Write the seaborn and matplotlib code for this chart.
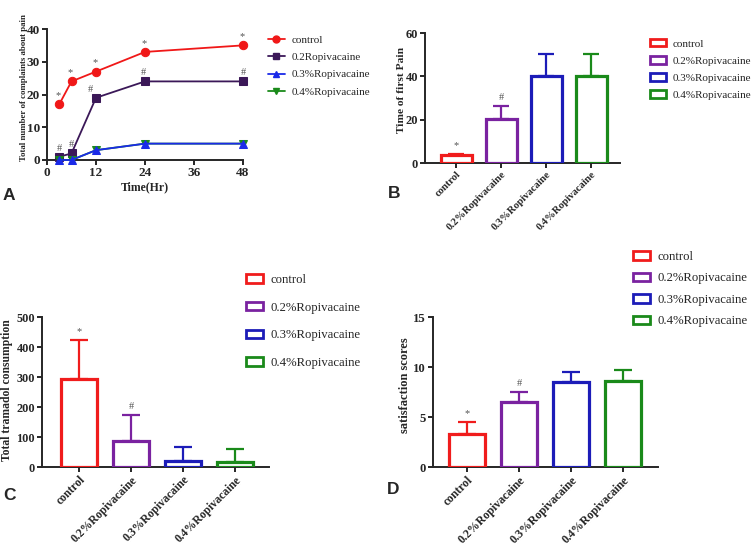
import matplotlib
matplotlib.use("Agg")
import matplotlib.pyplot as plt
import seaborn as sns
import numpy as np
import pandas as pd
from matplotlib.patches import Rectangle
from matplotlib.lines import Line2D

# ---------------- data ----------------
time_hr = [3, 6, 12, 24, 48]
pain_control = [17, 24, 27, 33, 35]
pain_r02 = [1, 2, 19, 24, 24]
pain_r03 = [0, 0, 3, 5, 5]
pain_r04 = [0, 0, 3, 5, 5]
line_labels = ["control", "0.2Ropivacaine", "0.3%Ropivacaine", "0.4%Ropivacaine"]

groups = ["control", "0.2%Ropivacaine", "0.3%Ropivacaine", "0.4%Ropivacaine"]
first_pain_mean = [3.5, 20.5, 40, 40]
first_pain_sd = [0.6, 6.0, 10.5, 10.5]
tramadol_mean = [295, 88, 20, 18]
tramadol_sd = [128, 85, 47, 42]
satisfaction_mean = [3.3, 6.5, 8.5, 8.6]
satisfaction_sd = [1.2, 1.0, 1.0, 1.1]

marks_B = ["*", "#", "", ""]
marks_C = ["*", "#", "", ""]
marks_D = ["*", "#", "", ""]

# ---------------- style ----------------
W, H = 753, 547
sns.set_style("ticks")
plt.rcParams["font.family"] = ["Liberation Serif", "DejaVu Serif"]
plt.rcParams["axes.linewidth"] = 1.4

line_colors = ["#f01818", "#3b1858", "#1a2ae8", "#1a8a1a"]
markers = ["o", "s", "^", "v"]
bar_colors = ["#f01c1c", "#7a22a0", "#1c1cb8", "#1a8a1a"]
mark_color = "#555555"

fig = plt.figure(figsize=(W / 100, H / 100), dpi=100)


def axes_px(l, t, r, b):
    return fig.add_axes([l / W, 1 - b / H, (r - l) / W, (b - t) / H])


def style_axes(ax, ylabel, fs_label, fs_tick):
    sns.despine(ax=ax)
    ax.tick_params(axis="both", direction="out", length=3.5, width=1.4,
                   labelsize=fs_tick, pad=1.5)
    for lab in ax.get_xticklabels() + ax.get_yticklabels():
        lab.set_fontweight("bold")
    ax.set_ylabel(ylabel, fontsize=fs_label, fontweight="bold", labelpad=2)
    ax.set_facecolor("none")


# ---------------- Panel A ----------------
axA = axes_px(47, 29, 243, 160)
series = [pain_control, pain_r02, pain_r03, pain_r04]
order = [0, 1, 3, 2]
for i in order:
    sns.lineplot(x=time_hr, y=series[i], ax=axA, color=line_colors[i], marker=markers[i],
                 markersize=6, markeredgecolor=line_colors[i], linewidth=1.3,
                 clip_on=False, zorder=3 + (i == 2))
axA.set_xlim(0, 48)
axA.set_ylim(0, 40)
axA.set_xticks([0, 12, 24, 36, 48])
axA.set_yticks([0, 10, 20, 30, 40])
style_axes(axA, "Total number of complaints about pain", 6.4, 9.5)
axA.set_xlabel("Time(Hr)", fontsize=8.5, fontweight="bold", labelpad=2)
axA.yaxis.set_label_coords(-0.097, 0.553)
for x, y in zip(time_hr, pain_control):
    axA.annotate("*", (x, y), xytext=(-1, 4), textcoords="offset pixels",
                 ha="center", va="bottom", fontsize=7.5, color=mark_color)
for j, (x, y) in enumerate(zip(time_hr, pain_r02)):
    dx = -6 if x == 12 else (-2 if x == 24 else 0)
    axA.annotate("#", (x, y), xytext=(dx, 4), textcoords="offset pixels",
                 ha="center", va="bottom", fontsize=7.5, color=mark_color)

hA = [Line2D([0], [0], color=line_colors[i], marker=markers[i], markersize=5,
             linewidth=1.3) for i in range(4)]
fig.legend(hA, line_labels, loc="upper left", bbox_to_anchor=(268 / W, 1 - 35 / H),
           frameon=False, fontsize=8.0, handlelength=1.5, handletextpad=0.6,
           labelspacing=0.68, borderpad=0, borderaxespad=0)


# ---------------- bar panels ----------------
def bar_panel(ax, means, sds, marks, ylim, yticks, ylabel, fs_label, xlim, fs_tick, fs_xt):
    df = pd.DataFrame({"group": groups, "value": means})
    sns.barplot(data=df, x="group", y="value", hue="group", palette=bar_colors,
                fill=False, linewidth=2.3, width=0.69, errorbar=None, legend=False,
                ax=ax, zorder=3)
    for p in ax.patches:
        p.set_facecolor("white")
        p.set_fill(True)
    bw_px = ax.bbox.width / (xlim[1] - xlim[0]) * 0.69
    cap_pt = bw_px * 0.5 * 72 / 100
    for i in range(len(groups)):
        ax.errorbar(i, means[i], yerr=[[0], [sds[i]]], fmt="none", ecolor=bar_colors[i],
                    elinewidth=1.6, capsize=cap_pt / 2, capthick=1.6, zorder=2)
        if marks[i]:
            ax.annotate(marks[i], (i, means[i] + sds[i]), xytext=(0, 4),
                        textcoords="offset pixels", ha="center", va="bottom",
                        fontsize=7.5, color=mark_color)
    ax.set_xlim(*xlim)
    ax.set_ylim(*ylim)
    ax.set_yticks(yticks)
    ax.set_xlabel("")
    style_axes(ax, ylabel, fs_label, fs_tick)
    ax.set_xticks(range(len(groups)))
    ax.set_xticklabels(groups, rotation=45, ha="right", rotation_mode="anchor",
                       fontweight="bold", fontsize=fs_xt)


def bar_legend(x, y, fs, spacing, hl):
    handles = [Rectangle((0, 0), 1, 1, facecolor="white", edgecolor=c, linewidth=2)
               for c in bar_colors]
    fig.legend(handles, groups, loc="upper left", bbox_to_anchor=(x / W, 1 - y / H),
               frameon=False, fontsize=fs, handlelength=hl, handleheight=0.65,
               handletextpad=0.6, labelspacing=spacing, borderpad=0, borderaxespad=0)


axB = axes_px(425, 33, 620, 163)
bar_panel(axB, first_pain_mean, first_pain_sd, marks_B, (0, 60), [0, 20, 40, 60],
          "Time of first Pain", 8.2, (-0.69, 3.64), 9, 7.6)
axB.yaxis.set_label_coords(-0.10, 0.565)
bar_legend(650, 39, 8.0, 0.68, 1.4)

axC = axes_px(42, 317, 269, 467)
bar_panel(axC, tramadol_mean, tramadol_sd, marks_C, (0, 500), [0, 100, 200, 300, 400, 500],
          "Total tramadol consumption", 8.4, (-0.71, 3.65), 8.8, 8.4)
axC.yaxis.set_label_coords(-0.128, 0.51)
bar_legend(246, 274, 9.2, 1.23, 1.3)

axD = axes_px(433, 317, 658, 467)
bar_panel(axD, satisfaction_mean, satisfaction_sd, marks_D, (0, 15), [0, 5, 10, 15],
          "satisfaction scores", 9.0, (-0.65, 3.67), 9.2, 8.6)
axD.yaxis.set_label_coords(-0.10, 0.543)
bar_legend(633, 251, 9.2, 0.74, 1.3)

# ---------------- panel letters ----------------
for letter, (x, y) in {"A": (3, 195), "B": (388, 194), "C": (3, 495), "D": (387, 490)}.items():
    fig.text(x / W, 1 - y / H, letter, fontsize=12.5, fontweight="bold",
             family=["Liberation Sans", "DejaVu Sans"], ha="left", va="center")

fig.savefig("out.png", dpi=100)
